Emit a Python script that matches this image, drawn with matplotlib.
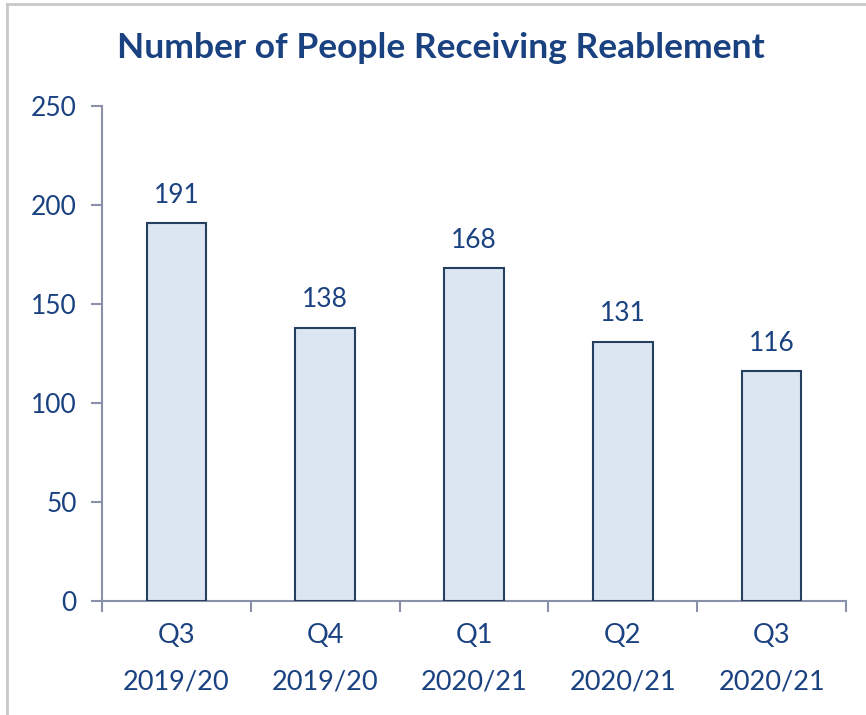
import matplotlib
matplotlib.use("Agg")
import matplotlib.pyplot as plt
from matplotlib.lines import Line2D

categories = ["Q3\n2019/20", "Q4\n2019/20", "Q1\n2020/21", "Q2\n2020/21", "Q3\n2020/21"]
values = [191, 138, 168, 131, 116]
yticks = [0, 50, 100, 150, 200, 250]

text_col = "#1A4180"
axis_col = "#8A90A8"
plt.rcParams['font.family'] = ['Lato', 'DejaVu Sans']

fig = plt.figure(figsize=(8.66, 7.15), dpi=100)
ax = fig.add_axes([102/866, 1-601/715, 744/866, (601-106)/715])

x = list(range(len(categories)))
bars = ax.bar(x, values, width=0.4, color="#DCE6F2", edgecolor="#243F60", linewidth=1.5, zorder=3)
for xi, v in zip(x, values):
    ax.annotate(str(v), (xi, v), xytext=(0, 11), textcoords="offset points",
                ha="center", va="bottom", fontsize=19, color=text_col)

ax.set_xlim(-0.5, len(categories) - 0.5)
ax.set_ylim(0, 250)
ax.set_yticks(yticks)
ax.set_yticklabels([str(t) for t in yticks], fontsize=19, color=text_col)
ax.set_xticks([i - 0.5 for i in range(len(categories) + 1)])
ax.set_xticklabels([])
ax.set_xticks(x, minor=True)
ax.set_xticklabels(categories, minor=True, fontsize=19.5, color=text_col, linespacing=2.05)
ax.tick_params(axis="x", which="minor", length=0, pad=16)
ax.tick_params(axis="x", which="major", length=8, width=1.5, color=axis_col, direction="out")
ax.tick_params(axis="y", length=8, width=1.5, color=axis_col, direction="out", pad=10)
for s in ["top", "right"]:
    ax.spines[s].set_visible(False)
for s in ["left", "bottom"]:
    ax.spines[s].set_color(axis_col)
    ax.spines[s].set_linewidth(1.5)

fig.text(441/866, 1-48/715, "Number of People Receiving Reablement", ha="center", va="center",
         fontsize=25.5, fontweight="bold", color=text_col)

fig.add_artist(Line2D([7/866, 7/866], [0, 1-4/715], transform=fig.transFigure, color="#C8C8C8", linewidth=2))
fig.add_artist(Line2D([7/866, 1], [1-4/715, 1-4/715], transform=fig.transFigure, color="#C8C8C8", linewidth=2))

fig.savefig("out.png", dpi=100)
